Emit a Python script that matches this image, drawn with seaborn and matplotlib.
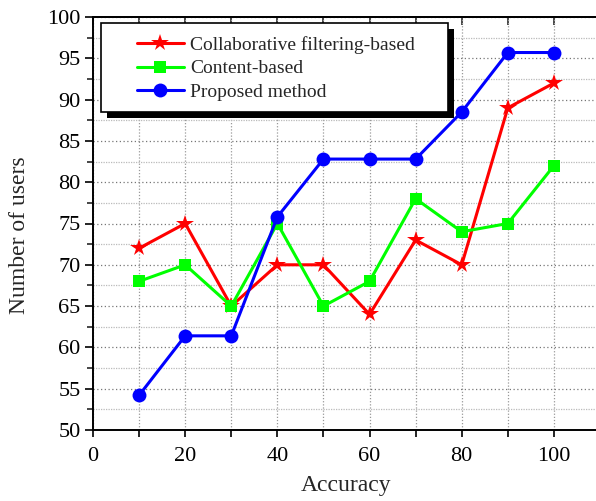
import pandas as pd
import seaborn as sns
import matplotlib
matplotlib.use("Agg")
import matplotlib.pyplot as plt
from matplotlib.ticker import MultipleLocator
from matplotlib.patches import Rectangle

# values
accuracy = [10, 20, 30, 40, 50, 60, 70, 80, 90, 100]
collab = [72, 75, 65, 70, 70, 64, 73, 70, 89, 92]
content = [68, 70, 65, 75, 65, 68, 78, 74, 75, 82]
proposed = [54.2, 61.4, 61.4, 75.8, 82.8, 82.8, 82.8, 88.5, 95.7, 95.7]

names = ["Collaborative filtering-based", "Content-based", "Proposed method"]
colors = ["#ff0000", "#00ff00", "#0000ff"]
msizes = [13, 8, 10]

df = pd.concat(
    [
        pd.DataFrame({"Accuracy": accuracy, "users": vals, "method": name})
        for name, vals in zip(names, [collab, content, proposed])
    ]
)

sns.set_style("ticks")
plt.rcParams["font.family"] = ["Liberation Serif", "DejaVu Serif"]

fig = plt.figure(figsize=(5.96, 5.01), dpi=100)
W, H = 596, 501
AW, AH = 507, 413
ax = fig.add_axes([93 / W, 71 / H, AW / W, AH / H])

sns.lineplot(
    data=df,
    x="Accuracy",
    y="users",
    hue="method",
    style="method",
    palette=dict(zip(names, colors)),
    markers={names[0]: "*", names[1]: "s", names[2]: "o"},
    dashes=False,
    linewidth=2.2,
    markeredgewidth=0,
    ax=ax,
)
for line, ms in zip(ax.get_lines()[:3], msizes):
    line.set_markersize(ms)

ax.set_xlim(0, 110)
ax.set_ylim(50, 100)
ax.xaxis.set_major_locator(MultipleLocator(20))
ax.xaxis.set_minor_locator(MultipleLocator(10))
ax.yaxis.set_major_locator(MultipleLocator(5))
ax.yaxis.set_minor_locator(MultipleLocator(2.5))

ax.grid(which="major", axis="y", linestyle=(0, (1, 2)), color="#777777", linewidth=0.9)
ax.grid(which="minor", axis="y", linestyle=(0, (1, 1)), color="#bbbbbb", linewidth=0.9)
ax.grid(which="both", axis="x", linestyle=(0, (1, 1.5)), color="#999999", linewidth=0.9)
ax.set_axisbelow(True)

for s in ["left", "bottom", "top"]:
    ax.spines[s].set_linewidth(1.4)
    ax.spines[s].set_color("black")
ax.spines["right"].set_visible(False)

ax.tick_params(axis="x", which="both", direction="out", length=5, width=1.2,
               top=False, labelsize=16, colors="black", pad=7)
ax.tick_params(axis="y", which="major", direction="out", length=6, width=1.2,
               labelsize=16, colors="black", pad=3)
ax.tick_params(axis="y", which="minor", direction="out", length=4, width=1.2)

# inward ticks along the top edge
top = ax.secondary_xaxis("top")
top.set_xticks(range(0, 111, 10))
top.tick_params(direction="in", length=6, width=1.2, labeltop=False)
top.spines["top"].set_linewidth(1.4)

ax.set_xlabel("Accuracy", fontsize=17, labelpad=7)
ax.set_ylabel("Number of users", fontsize=17)
ax.yaxis.set_label_coords(-0.124, 0.472)

# legend box with a solid shadow, drawn as patches
bx, by, bw, bh = 8 / AW, 1 - 95 / AH, 347 / AW, 89 / AH
ax.add_patch(Rectangle((bx + 6 / AW, by - 6 / AH), bw, bh, transform=ax.transAxes,
                       facecolor="black", edgecolor="none", zorder=8, clip_on=False))
ax.add_patch(Rectangle((bx, by), bw, bh, transform=ax.transAxes,
                       facecolor="white", edgecolor="black", linewidth=1.2,
                       zorder=9, clip_on=False))

handles, labels = ax.get_legend_handles_labels()
leg = ax.legend(
    handles,
    labels,
    loc="upper left",
    bbox_to_anchor=(44 / AW, 1 - 19 / AH),
    borderaxespad=0,
    borderpad=0,
    fontsize=14,
    frameon=False,
    handlelength=2.4,
    handletextpad=0.35,
    labelspacing=0.3,
)
for h, ms in zip(leg.legend_handles, msizes):
    h.set_markersize(ms)
    h.set_linewidth(2.2)
leg.set_zorder(10)

fig.savefig("out.png", dpi=100)
